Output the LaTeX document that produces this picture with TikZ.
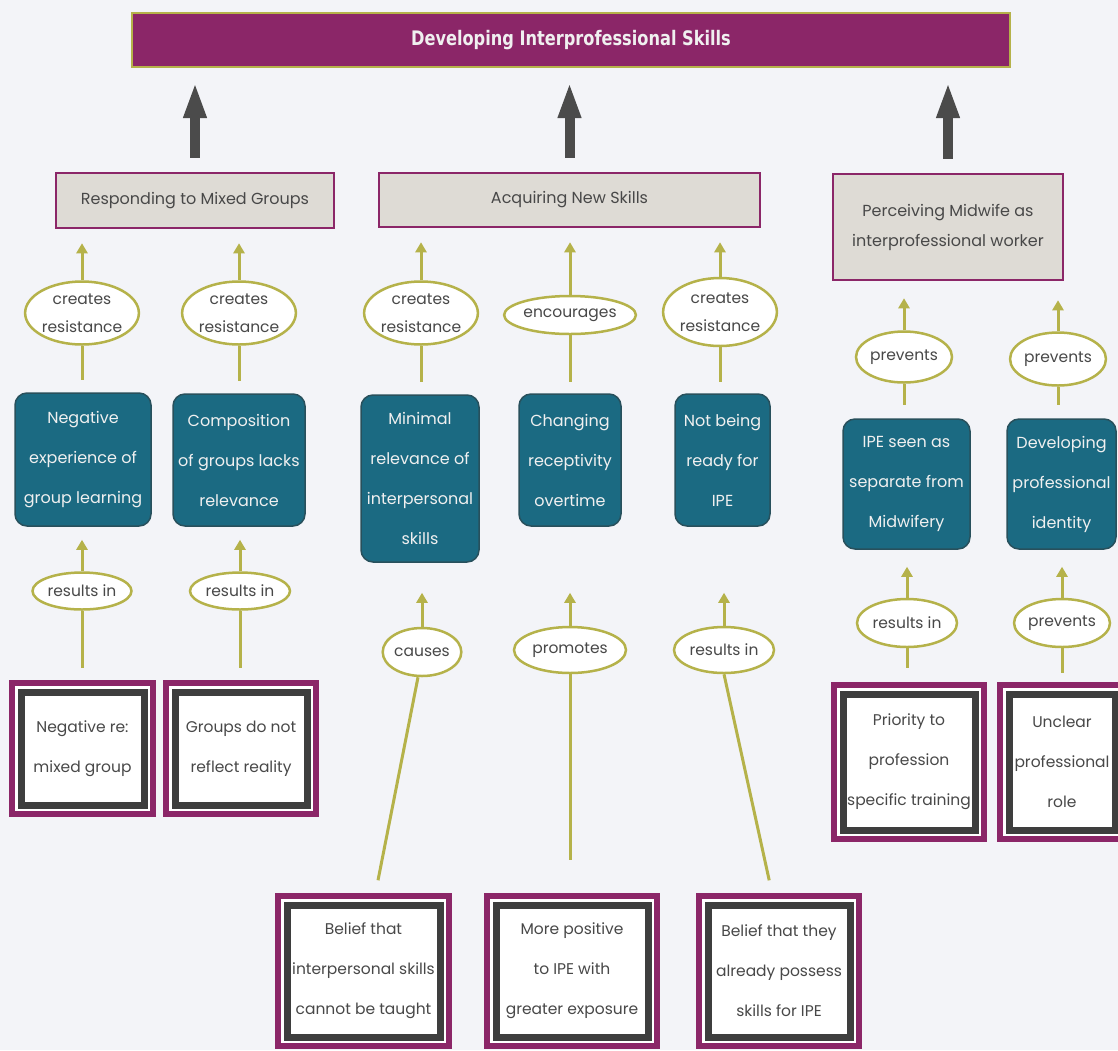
\documentclass[tikz,border=0pt]{standalone}
\usepackage{fontspec}
\setmainfont{Poppins}
\newfontfamily\titlefont{DejaVu Sans Condensed}
\usetikzlibrary{arrows.meta,shapes.geometric}

\definecolor{pagebg}{RGB}{243,244,248}
\definecolor{plum}{RGB}{139,38,104}
\definecolor{olivec}{RGB}{181,178,74}
\definecolor{catfill}{RGB}{222,219,213}
\definecolor{tealc}{RGB}{27,106,130}
\definecolor{tealedge}{RGB}{40,80,92}
\definecolor{inkgrey}{RGB}{75,75,75}
\definecolor{framegrey}{RGB}{62,62,62}
\definecolor{textgrey}{RGB}{72,72,72}

\tikzset{
  titlebar/.style={draw=olivec, line width=2pt, fill=plum, text=white!94!black,
    font=\titlefont\bfseries\fontsize{20}{24}\selectfont, inner sep=0pt},
  catbox/.style={draw=plum, line width=2.5pt, fill=catfill, text=textgrey,
    align=center, inner sep=0pt, font=\fontsize{16}{30}\selectfont},
  oval/.style={ellipse, draw=olivec, line width=2.5pt, fill=white, text=textgrey,
    align=center, inner sep=0pt, font=\fontsize{15.5}{28}\selectfont},
  tealbox/.style={rounded corners=12pt, draw=tealedge, line width=1.5pt, fill=tealc,
    text=white!94!black, align=center, inner sep=0pt, font=\fontsize{16}{40}\selectfont},
  srcbox/.style={draw=plum, line width=6pt, fill=white, text=textgrey,
    align=center, inner sep=0pt, font=\fontsize{15.5}{40}\selectfont},
  innerframe/.style={draw=framegrey, line width=7pt},
  bigarrow/.style={draw=inkgrey, line width=10pt,
    -{Triangle[width=21pt,length=36pt]}, shorten <=14pt, shorten >=14pt},
  oarrow/.style={draw=olivec, line width=3pt, -{Triangle[width=11pt,length=10pt]}},
  oline/.style={draw=olivec, line width=3pt},
}

\begin{document}
\begin{tikzpicture}[x=1pt, y=-1pt]
  \useasboundingbox (0,0) rectangle (1118,1050);
  \clip (0,0) rectangle (1118,1050);
  \fill[pagebg] (0,0) rectangle (1118,1050);

  % headline
  \node[titlebar, minimum width=878pt, minimum height=54pt] (title) at (571,40)
    {\scalebox{0.9}[1]{Developing Interprofessional Skills}};

  % three categories
  \node[catbox, minimum width=278pt, minimum height=55pt] (resp) at (195,200.5)
    {Responding to Mixed Groups};
  \node[catbox, minimum width=381pt, minimum height=54pt] (acq) at (569.5,200)
    {Acquiring New Skills};
  \node[catbox, minimum width=230pt, minimum height=106pt] (perc) at (948,227)
    {Perceiving Midwife as\\interprofessional worker};

  % first row of link labels
  \node[oval, minimum width=99pt, minimum height=63pt] (r1a) at (82,313) {creates\\resistance};
  \node[oval, minimum width=102pt, minimum height=63pt] (r1b) at (239,313) {creates\\resistance};
  \node[oval, minimum width=105pt, minimum height=63pt] (r1c) at (421,313) {creates\\resistance};
  \node[oval, minimum width=113pt, minimum height=38pt] (r1d) at (570,315) {encourages};
  \node[oval, minimum width=106pt, minimum height=68pt] (r1e) at (720,312) {creates\\resistance};
  \node[oval, minimum width=96pt, minimum height=51pt] (p1) at (904,357) {prevents};
  \node[oval, minimum width=95pt, minimum height=53pt] (p2) at (1058,359) {prevents};

  % themes
  \node[tealbox, minimum width=136pt, minimum height=133pt] (t1) at (83,459.5)
    {Negative\\experience of\\group learning};
  \node[tealbox, minimum width=132pt, minimum height=132pt] (t2) at (239,460)
    {Composition\\of groups lacks\\relevance};
  \node[tealbox, minimum width=118pt, minimum height=167pt] (t3) at (420,478.5)
    {Minimal\\relevance of\\interpersonal\\skills};
  \node[tealbox, minimum width=102pt, minimum height=132pt] (t4) at (570,460)
    {Changing\\receptivity\\overtime};
  \node[tealbox, minimum width=95pt, minimum height=132pt] (t5) at (722.5,460)
    {Not being\\ready for\\IPE};
  \node[tealbox, minimum width=127pt, minimum height=130pt] (t6) at (906.5,484)
    {IPE seen as\\separate from\\Midwifery};
  \node[tealbox, minimum width=109pt, minimum height=130pt] (t7) at (1061.5,484)
    {Developing\\professional\\identity};

  % second row of link labels
  \node[oval, minimum width=99pt, minimum height=37pt] (q1) at (82,591) {results in};
  \node[oval, minimum width=100pt, minimum height=37pt] (q2) at (240,591) {results in};
  \node[oval, minimum width=77pt, minimum height=48pt] (q3) at (422,652) {causes};
  \node[oval, minimum width=112pt, minimum height=46pt] (q4) at (570,650) {promotes};
  \node[oval, minimum width=100pt, minimum height=46pt] (q5) at (724,650) {results in};
  \node[oval, minimum width=100pt, minimum height=48pt] (q6) at (907,623) {results in};
  \node[oval, minimum width=92pt, minimum height=48pt] (q7) at (1062,623) {prevents};

  % source statements
  \node[srcbox, minimum width=141pt, minimum height=131pt] (s1) at (82.5,748.5)
    {Negative re:\\mixed group};
  \node[srcbox, minimum width=150pt, minimum height=131pt] (s2) at (241,748.5)
    {Groups do not\\reflect reality};
  \node[srcbox, minimum width=171pt, minimum height=150pt] (s3) at (363.5,971)
    {Belief that\\interpersonal skills\\cannot be taught};
  \node[srcbox, minimum width=170pt, minimum height=150pt] (s4) at (572,971)
    {More positive\\to IPE with\\greater exposure};
  \node[srcbox, minimum width=160pt, minimum height=150pt] (s5) at (779,971)
    {Belief that they\\already possess\\skills for IPE};
  \node[srcbox, minimum width=150pt, minimum height=154pt] (s6) at (909,762)
    {Priority to\\profession\\specific training};
  \node[srcbox, minimum width=124pt, minimum height=154pt] (s7) at (1062,762)
    {Unclear\\professional\\role};

  \foreach \n in {s1,s2,s3,s4,s5,s6,s7}
    \draw[innerframe] ([shift={(12pt,-12pt)}]\n.north west)
      rectangle ([shift={(-12pt,12pt)}]\n.south east);

  % categories feed the headline
  \draw[bigarrow] (resp.north) -- (resp.north |- title.south);
  \draw[bigarrow] (acq.north) -- (acq.north |- title.south);
  \draw[bigarrow] (perc.north) -- (perc.north |- title.south);

  % first row: labels to categories
  \draw[oarrow, shorten >=14pt] (r1a.north) -- (r1a.north |- resp.south);
  \draw[oarrow, shorten >=14pt] (r1b.north) -- (r1b.north |- resp.south);
  \draw[oarrow, shorten >=14pt] (r1c.north) -- (r1c.north |- acq.south);
  \draw[oarrow, shorten >=14pt] (r1d.north) -- (r1d.north |- acq.south);
  \draw[oarrow, shorten >=14pt] (r1e.north) -- (r1e.north |- acq.south);
  \draw[oarrow, shorten >=17pt] (p1.north) -- (p1.north |- perc.south);
  \draw[oarrow, shorten >=19pt] (p2.north) -- (p2.north |- perc.south);

  % themes to first row labels
  \draw[oline, shorten >=12pt] (r1a.south) -- (r1a.south |- t1.north);
  \draw[oline, shorten >=12pt] (r1b.south) -- (r1b.south |- t2.north);
  \draw[oline, shorten >=12pt] (r1c.south) -- (r1c.south |- t3.north);
  \draw[oline, shorten >=11pt] (r1d.south) -- (r1d.south |- t4.north);
  \draw[oline, shorten >=11pt] (r1e.south) -- (r1e.south |- t5.north);
  \draw[oline, shorten >=13pt] (p1.south) -- (p1.south |- t6.north);
  \draw[oline, shorten >=13pt] (p2.south) -- (p2.south |- t7.north);

  % second row: labels to themes
  \draw[oarrow, shorten >=13pt] (q1.north) -- (q1.north |- t1.south);
  \draw[oarrow, shorten >=13pt] (q2.north) -- (q2.north |- t2.south);
  \draw[oarrow, shorten >=30pt] (q3.north) -- (q3.north |- t3.south);
  \draw[oarrow, shorten >=66pt] (q4.north) -- (q4.north |- t4.south);
  \draw[oarrow, shorten >=66pt] (q5.north) -- (q5.north |- t5.south);
  \draw[oarrow, shorten >=17pt] (q6.north) -- (q6.north |- t6.south);
  \draw[oarrow, shorten >=17pt] (q7.north) -- (q7.north |- t7.south);

  % sources to second row labels
  \draw[oline, shorten >=12pt] (q1.south) -- (q1.south |- s1.north);
  \draw[oline, shorten >=12pt] (q2.south) -- (q2.south |- s2.north);
  \draw[oline, shorten >=13pt] ([xshift=-4pt]q3.south) -- ([xshift=12pt]s3.north);
  \draw[oline, shorten >=33pt] (q4.south) -- (q4.south |- s4.north);
  \draw[oline, shorten >=13pt] (q5.south) -- ([xshift=-7pt]s5.north);
  \draw[oline, shorten >=14pt] (q6.south) -- (q6.south |- s6.north);
  \draw[oline, shorten >=9pt] (q7.south) -- (q7.south |- s7.north);
\end{tikzpicture}
\end{document}
